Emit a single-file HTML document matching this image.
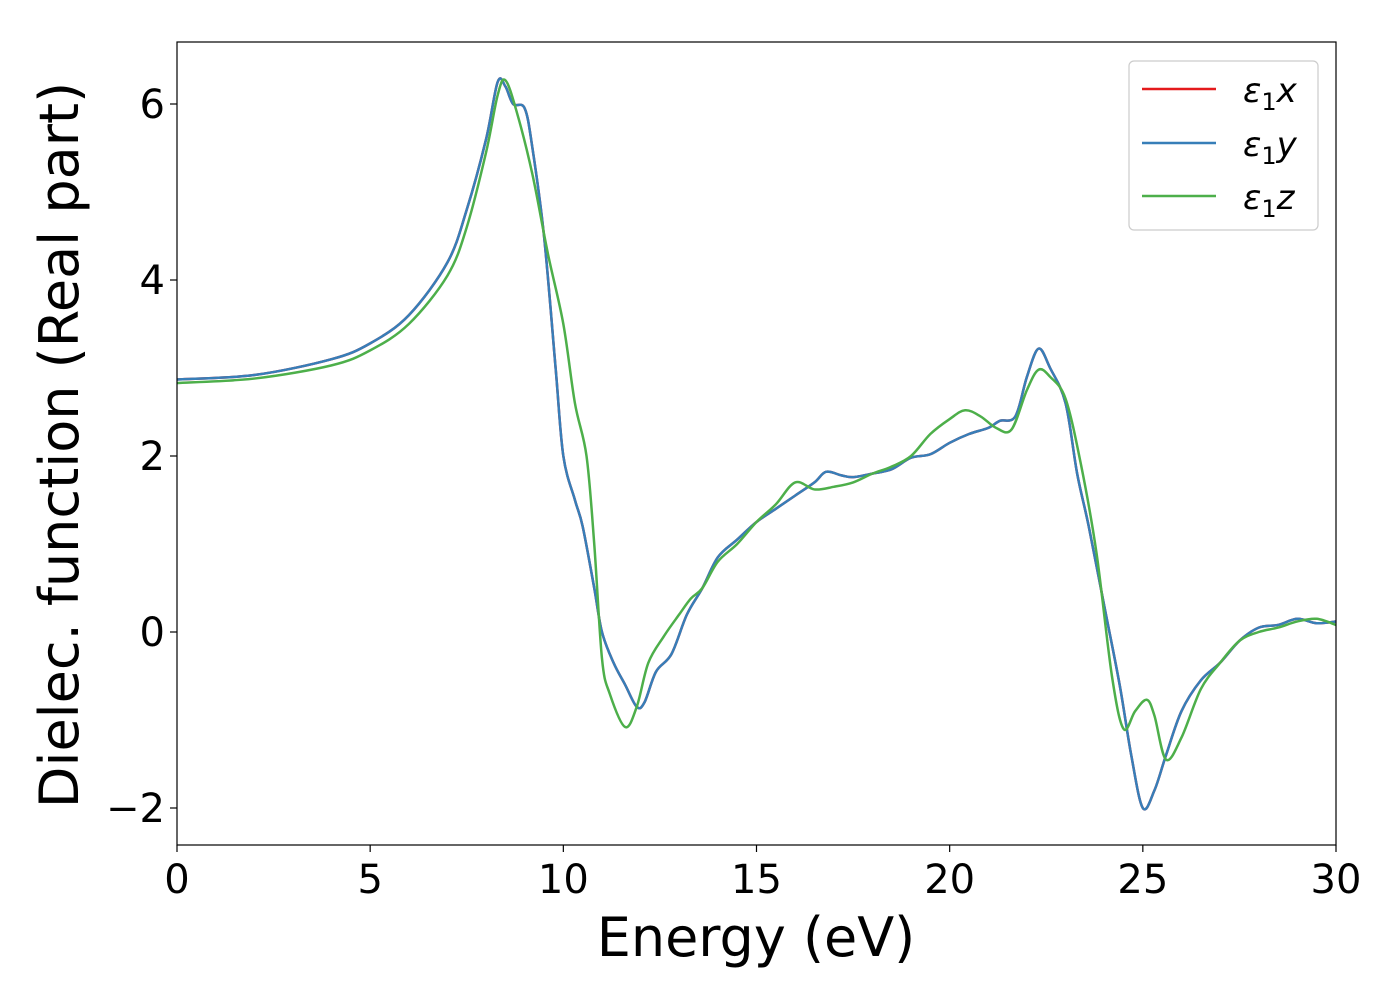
<!DOCTYPE html>
<html><head><meta charset="utf-8"><style>
body{margin:0;background:#fff;font-family:"Liberation Sans","DejaVu Sans",sans-serif}
svg text{font-family:"DejaVu Sans","Liberation Sans",sans-serif}
</style></head><body>
<svg id="chart" width="1400" height="1000" xmlns="http://www.w3.org/2000/svg">
<rect width="1400" height="1000" fill="#fff"/>
<g id="plot"></g>
<rect x="177" y="42" width="1159" height="803" fill="none" stroke="#000" stroke-width="1.2"/>
<g id="ticks"></g>
<text x="756" y="956" font-size="54" text-anchor="middle">Energy (eV)</text>
<text transform="translate(78,445) rotate(-90)" font-size="54" text-anchor="middle">Dielec. function (Real part)</text>
<g>
<rect x="1129" y="61" width="189" height="169" rx="5" fill="#fff" stroke="#ccc" stroke-width="1.2"/>
<line x1="1142" y1="89" x2="1216" y2="89" stroke="#e41a1c" stroke-width="2.5"/>
<line x1="1142" y1="143" x2="1216" y2="143" stroke="#377eb8" stroke-width="2.5"/>
<line x1="1142" y1="196" x2="1216" y2="196" stroke="#4daf4a" stroke-width="2.5"/>
<text x="1243" y="102" font-size="34" font-style="italic">ε<tspan font-style="normal" font-size="24" dy="8">1</tspan><tspan dy="-8">x</tspan></text>
<text x="1243" y="156" font-size="34" font-style="italic">ε<tspan font-style="normal" font-size="24" dy="8">1</tspan><tspan dy="-8">y</tspan></text>
<text x="1243" y="209" font-size="34" font-style="italic">ε<tspan font-style="normal" font-size="24" dy="8">1</tspan><tspan dy="-8">z</tspan></text>
</g>
</svg>
<script>
const energyXY=[0,2,4,5,6,7,7.5,8,8.3,8.5,8.7,9.0,9.2,9.5,9.8,10.0,10.3,10.5,10.8,11.0,11.3,11.6,11.9,12.1,12.4,12.8,13.2,13.6,14,14.5,15,15.5,16,16.5,16.8,17.2,17.5,18,18.5,19,19.5,20,20.5,21,21.3,21.7,22,22.3,22.6,23,23.3,23.6,24,24.4,24.7,25.0,25.3,25.6,26.0,26.5,27,27.5,28,28.5,29,29.5,30];
const eps1x=[2.87,2.92,3.1,3.28,3.6,4.2,4.8,5.6,6.25,6.2,6.0,5.95,5.5,4.5,3.0,2.0,1.5,1.2,0.5,0.0,-0.35,-0.6,-0.85,-0.8,-0.45,-0.25,0.2,0.5,0.85,1.05,1.25,1.4,1.55,1.7,1.82,1.78,1.76,1.8,1.85,1.98,2.02,2.15,2.25,2.32,2.4,2.45,2.9,3.22,3.0,2.6,1.8,1.2,0.3,-0.6,-1.4,-2.0,-1.8,-1.4,-0.9,-0.55,-0.35,-0.1,0.05,0.08,0.15,0.1,0.12];
const eps1y=eps1x.slice();
const energyZ=[0,2,4,5,6,7,7.5,8,8.3,8.5,8.8,9.2,9.6,10.0,10.3,10.6,10.8,11.0,11.2,11.6,11.9,12.2,12.6,13,13.3,13.6,14,14.5,15,15.5,16,16.5,17,17.5,18,18.5,19,19.5,20,20.4,20.8,21.2,21.6,22,22.3,22.6,23,23.4,23.8,24.2,24.5,24.8,25.1,25.3,25.6,26,26.5,27,27.5,28,28.5,29,29.5,30];
const eps1z=[2.83,2.88,3.03,3.2,3.5,4.05,4.6,5.45,6.1,6.27,5.9,5.2,4.3,3.5,2.6,2.0,1.0,-0.3,-0.7,-1.08,-0.85,-0.35,-0.05,0.2,0.38,0.5,0.8,1.0,1.25,1.45,1.7,1.62,1.65,1.7,1.8,1.88,2.0,2.25,2.42,2.52,2.45,2.32,2.3,2.75,2.98,2.9,2.65,1.9,0.9,-0.5,-1.1,-0.9,-0.77,-0.95,-1.45,-1.2,-0.65,-0.35,-0.1,0.0,0.05,0.12,0.15,0.08];
const xTicks=[0,5,10,15,20,25,30];
const yTicks=[-2,0,2,4,6];
const yTickLabels=["\u22122","0","2","4","6"];
const NS="http://www.w3.org/2000/svg";
const xs=v=>177+v*(1159/30);
const ys=v=>632-v*88;
function path(X,Y){
  const p=X.map((x,i)=>[xs(x),ys(Y[i])]);
  let d=`M${p[0][0]},${p[0][1]}`;
  for(let i=0;i<p.length-1;i++){
    const p0=p[Math.max(0,i-1)],p1=p[i],p2=p[i+1],p3=p[Math.min(p.length-1,i+2)];
    const c1=[p1[0]+(p2[0]-p0[0])/6,p1[1]+(p2[1]-p0[1])/6];
    const c2=[p2[0]-(p3[0]-p1[0])/6,p2[1]-(p3[1]-p1[1])/6];
    d+=`C${c1[0]},${c1[1]} ${c2[0]},${c2[1]} ${p2[0]},${p2[1]}`;
  }
  return d;
}
const plot=document.getElementById('plot');
const clip=document.createElementNS(NS,'clipPath');clip.setAttribute('id','c');
const cr=document.createElementNS(NS,'rect');cr.setAttribute('x',177);cr.setAttribute('y',42);cr.setAttribute('width',1159);cr.setAttribute('height',803);
clip.appendChild(cr);plot.appendChild(clip);
function addLine(X,Y,color,name){
  const el=document.createElementNS(NS,'path');
  el.setAttribute('d',path(X,Y));el.setAttribute('fill','none');el.setAttribute('stroke',color);el.setAttribute('stroke-width','2.5');el.setAttribute('clip-path','url(#c)');
  
  
  plot.appendChild(el);
}
addLine(energyXY,eps1x,'#e41a1c','series-eps1x');
addLine(energyXY,eps1y,'#377eb8','series-eps1y');
addLine(energyZ,eps1z,'#4daf4a','series-eps1z');
const tg=document.getElementById('ticks');
xTicks.forEach(v=>{
  const l=document.createElementNS(NS,'line');l.setAttribute('x1',xs(v));l.setAttribute('x2',xs(v));l.setAttribute('y1',845);l.setAttribute('y2',852);l.setAttribute('stroke','#000');l.setAttribute('stroke-width','1.2');
  
  
  tg.appendChild(l);
  const t=document.createElementNS(NS,'text');t.setAttribute('x',xs(v));t.setAttribute('y',893);t.setAttribute('font-size','40');t.setAttribute('text-anchor','middle');t.textContent=v;
  
  
  tg.appendChild(t);
});
yTicks.forEach((v,i)=>{
  const l=document.createElementNS(NS,'line');l.setAttribute('x1',170);l.setAttribute('x2',177);l.setAttribute('y1',ys(v));l.setAttribute('y2',ys(v));l.setAttribute('stroke','#000');l.setAttribute('stroke-width','1.2');
  
  
  tg.appendChild(l);
  const t=document.createElementNS(NS,'text');t.setAttribute('x',165);t.setAttribute('y',ys(v)+14);t.setAttribute('font-size','40');t.setAttribute('text-anchor','end');t.textContent=yTickLabels[i];
  
  
  tg.appendChild(t);
});
</script>
</body></html>
